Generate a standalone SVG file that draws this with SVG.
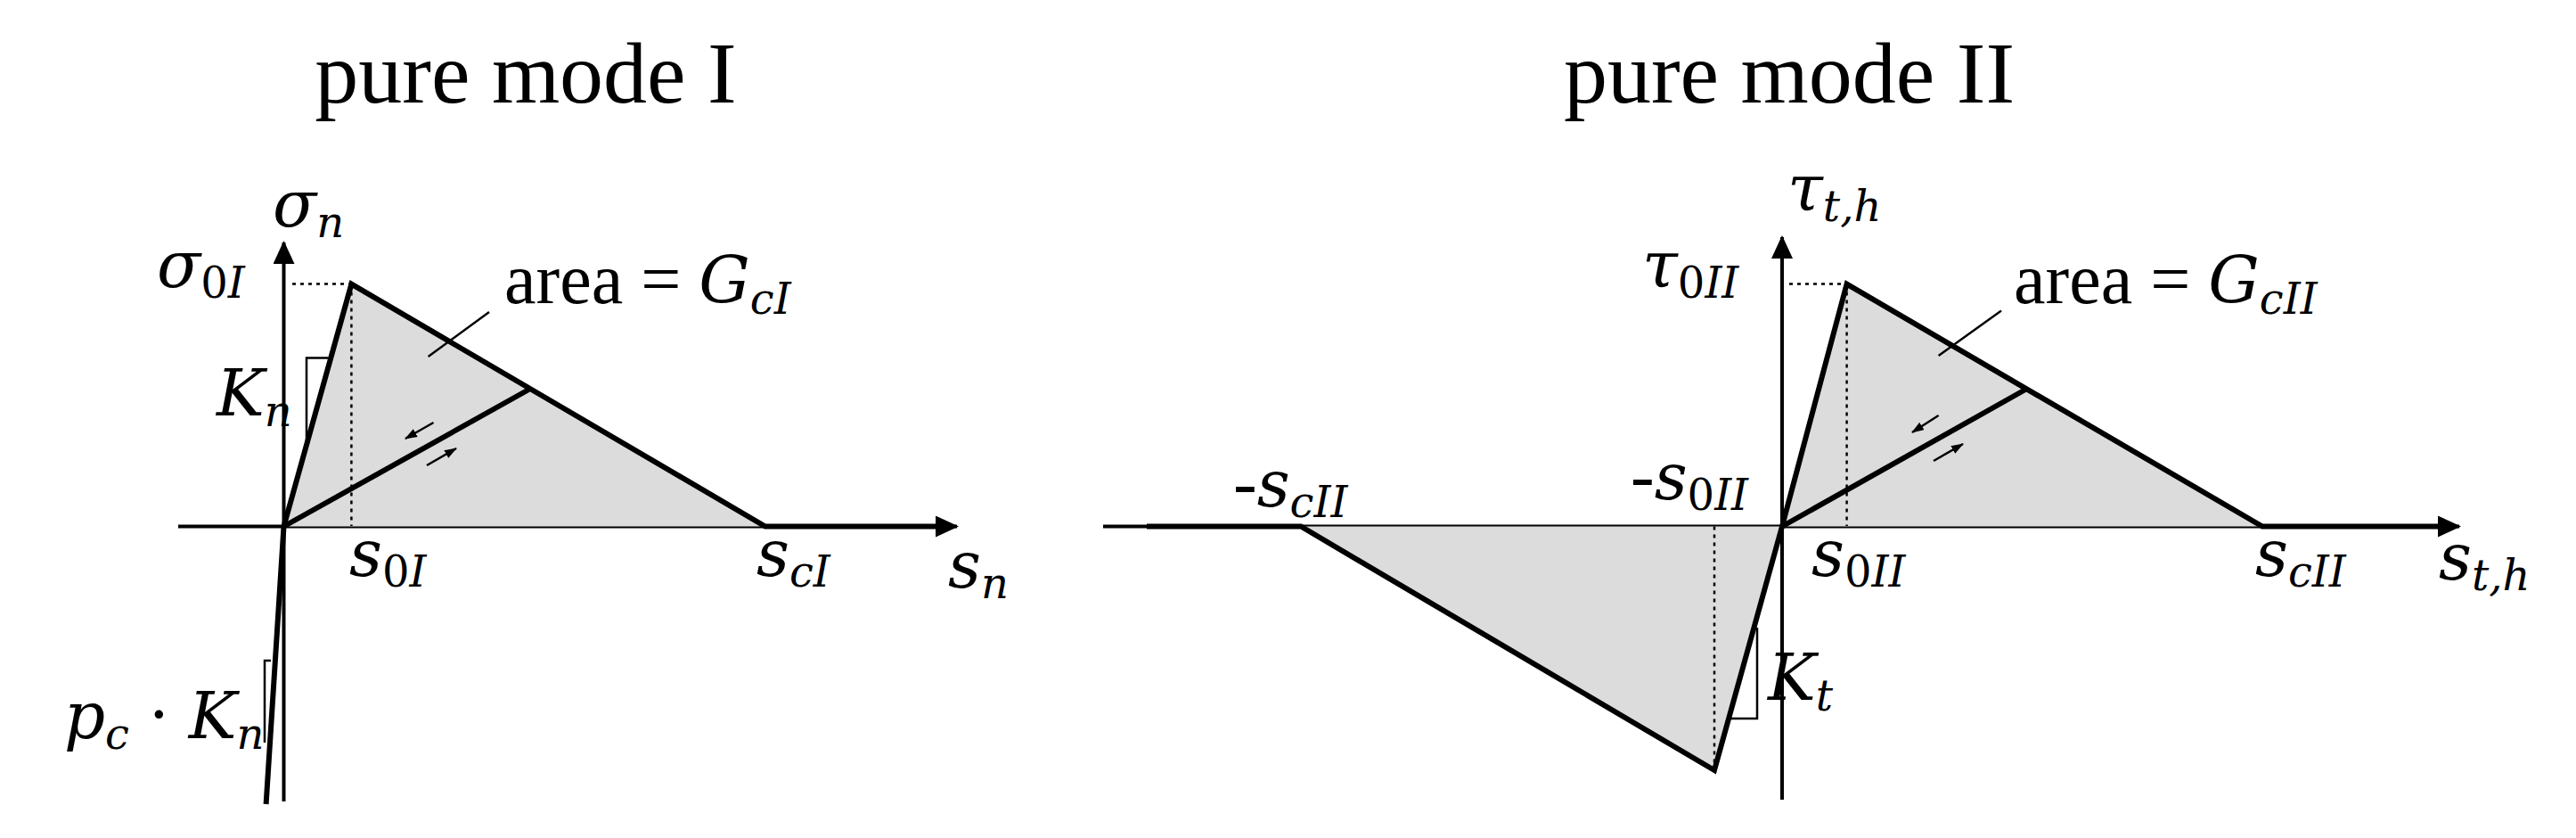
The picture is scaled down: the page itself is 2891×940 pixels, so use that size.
<svg xmlns="http://www.w3.org/2000/svg" width="2891" height="940" viewBox="0 0 2891 940">
<defs>
<marker id="big" markerWidth="26" markerHeight="24" refX="24" refY="12" orient="auto" markerUnits="userSpaceOnUse" viewBox="0 0 26 24"><path d="M0,0 L26,12 L0,24 z" fill="#000"/></marker>
<marker id="sm" markerWidth="14" markerHeight="10" refX="13" refY="5" orient="auto" markerUnits="userSpaceOnUse" viewBox="0 0 14 10"><path d="M0,0 L14,5 L0,10 z" fill="#000"/></marker>
</defs>
<style>
text{font-family:"Liberation Serif","DejaVu Serif",serif;fill:#000}
.t{font-size:98px}
.m{font-size:72px;font-style:italic;font-family:"DejaVu Serif",serif}
.s{font-size:48px;font-style:italic;font-family:"DejaVu Serif",serif}
.n{font-size:48px;font-family:"DejaVu Serif",serif}
.u{font-size:80px}
.ax{stroke:#000;stroke-width:4;fill:none}
.th{stroke:#000;stroke-width:6;fill:none;stroke-linejoin:miter}
.tn{stroke:#000;stroke-width:2.5;fill:none}
.dt{stroke:#000;stroke-width:2.5;stroke-dasharray:4 5;fill:none}
.fl{fill:#dcdcdc;stroke:none}
</style>
<rect width="2891" height="940" fill="#fff"/>
<g id="titles">
<text class="t" x="590" y="115" text-anchor="middle">pure mode I</text>
<text class="t" x="2008" y="115" text-anchor="middle">pure mode II</text>
</g>
<g id="connectors">
<line class="ax" x1="200" y1="590.5" x2="1074" y2="590.5" marker-end="url(#big)"/>
<line class="ax" x1="318.5" y1="899" x2="318.5" y2="272" marker-end="url(#big)"/>
<line class="ax" x1="1238" y1="590.5" x2="2760" y2="590.5" marker-end="url(#big)"/>
<line class="ax" x1="2000" y1="897" x2="2000" y2="266" marker-end="url(#big)"/>
</g>
<g id="modeI">
<polygon class="fl" points="318.5,590.5 394.4,318.6 858.8,590.5"/>
<line class="dt" x1="328" y1="318.6" x2="394" y2="318.6"/>
<line class="dt" x1="394.4" y1="318.6" x2="394.4" y2="590"/>
<polyline class="th" points="298.6,902 318.5,590.5 394.4,318.6 858.8,590.5 1050,590.5"/>
<line class="th" x1="318.5" y1="590.5" x2="593.4" y2="437"/>
<polyline class="tn" points="344,497 344,401.6 368.6,401.6"/>
<polyline class="tn" points="297,833 297,741 304,741"/>
<line class="tn" x1="480.6" y1="400" x2="549" y2="350"/>
<line class="tn" x1="479" y1="522" x2="512" y2="503" marker-end="url(#sm)"/>
<line class="tn" x1="486.5" y1="474" x2="455" y2="492" marker-end="url(#sm)"/>
<text x="306" y="254"><tspan class="m">σ</tspan><tspan class="s" dy="12">n</tspan></text>
<text x="176" y="322"><tspan class="m">σ</tspan><tspan class="n" dy="12">0</tspan><tspan class="s">I</tspan></text>
<text x="243" y="466"><tspan class="m">K</tspan><tspan class="s" dy="12">n</tspan></text>
<text x="566" y="340"><tspan class="u">area = </tspan><tspan class="m">G</tspan><tspan class="s" dy="12">cI</tspan></text>
<text x="392" y="646"><tspan class="m">s</tspan><tspan class="n" dy="12">0</tspan><tspan class="s">I</tspan></text>
<text x="849" y="646"><tspan class="m">s</tspan><tspan class="s" dy="12">cI</tspan></text>
<text x="1064" y="659"><tspan class="m">s</tspan><tspan class="s" dy="12">n</tspan></text>
<text x="72" y="828"><tspan class="m">p</tspan><tspan class="s" dy="12">c</tspan><tspan class="u" dy="-12"> · </tspan><tspan class="m">K</tspan><tspan class="s" dy="12">n</tspan></text>
</g>
<g id="modeII">
<polygon class="fl" points="2000,590.5 2072.6,318.6 2539,590.5"/>
<polygon class="fl" points="2000,590.5 1924,864 1460,590.5"/>
<line class="dt" x1="2008" y1="318.6" x2="2072" y2="318.6"/>
<line class="dt" x1="2072.6" y1="318.6" x2="2072.6" y2="590"/>
<line class="dt" x1="1924" y1="590.5" x2="1924" y2="864"/>
<polyline class="th" points="1287,590.5 1460,590.5 1924,864 2000,590.5 2072.6,318.6 2539,590.5 2740,590.5"/>
<line class="th" x1="2000" y1="590.5" x2="2273" y2="437"/>
<polyline class="tn" points="1972,704 1972,806 1942.6,806"/>
<line class="tn" x1="2175.6" y1="399" x2="2246" y2="348.5"/>
<line class="tn" x1="2170" y1="517" x2="2203" y2="498" marker-end="url(#sm)"/>
<line class="tn" x1="2175.6" y1="466" x2="2146" y2="485" marker-end="url(#sm)"/>
<text x="2006" y="236"><tspan class="m">τ</tspan><tspan class="s" dy="12">t,h</tspan></text>
<text x="1843" y="322"><tspan class="m">τ</tspan><tspan class="n" dy="12">0</tspan><tspan class="s">II</tspan></text>
<text x="2260" y="340"><tspan class="u">area = </tspan><tspan class="m">G</tspan><tspan class="s" dy="12">cII</tspan></text>
<text x="1384" y="568"><tspan class="u">-</tspan><tspan class="m">s</tspan><tspan class="s" dy="12">cII</tspan></text>
<text x="1830" y="560"><tspan class="u">-</tspan><tspan class="m">s</tspan><tspan class="n" dy="12">0</tspan><tspan class="s">II</tspan></text>
<text x="2033" y="646"><tspan class="m">s</tspan><tspan class="n" dy="12">0</tspan><tspan class="s">II</tspan></text>
<text x="2531" y="646"><tspan class="m">s</tspan><tspan class="s" dy="12">cII</tspan></text>
<text x="2737" y="650"><tspan class="m">s</tspan><tspan class="s" dy="12">t,h</tspan></text>
<text x="1984" y="785"><tspan class="m">K</tspan><tspan class="s" dy="12">t</tspan></text>
</g>
</svg>
